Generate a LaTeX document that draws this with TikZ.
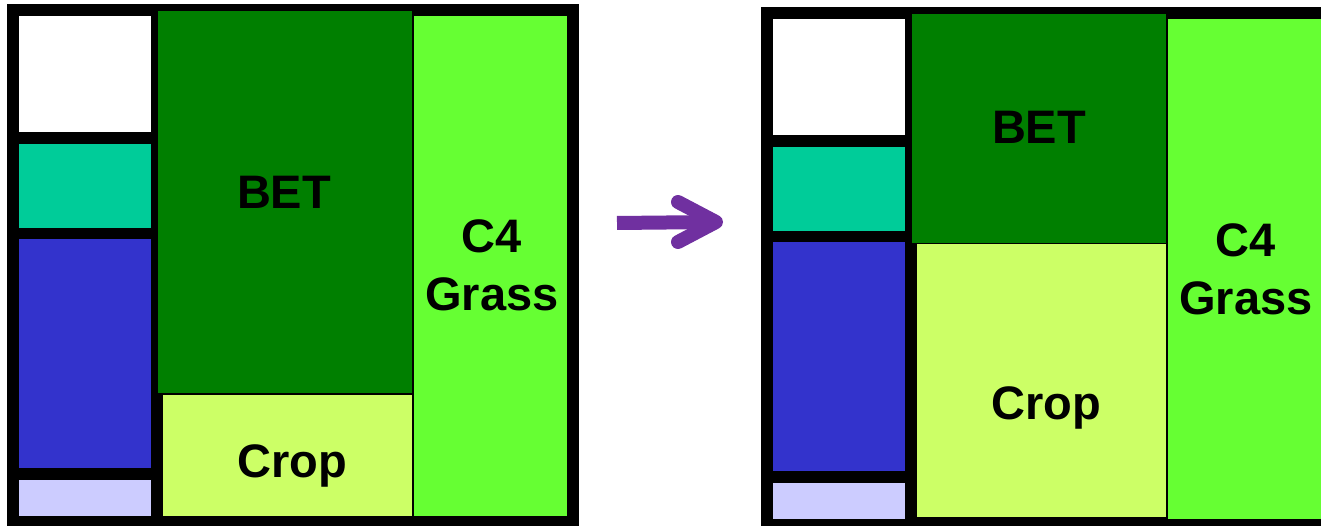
\documentclass[tikz,border=0pt]{standalone}
\usepackage{fontspec}
\setmainfont{Liberation Sans}
\definecolor{cwhite}{HTML}{FFFFFF}
\definecolor{cteal}{HTML}{00CC99}
\definecolor{cblue}{HTML}{3333CC}
\definecolor{clav}{HTML}{CCCCFF}
\definecolor{cbet}{HTML}{007F00}
\definecolor{ccrop}{HTML}{CCFF66}
\definecolor{cgrass}{HTML}{66FF33}
\definecolor{cpurple}{HTML}{7030A0}
\tikzset{
  lbl/.style={font=\fontsize{47}{57}\selectfont\bfseries, anchor=base, inner sep=0pt, text=black},
  arr/.style={draw=cpurple, line width=14pt, line cap=round, line join=round}
}
\begin{document}
\begin{tikzpicture}[x=1pt, y=-1pt]
\useasboundingbox (0,0) rectangle (1321,526);
% ---------- left panel ----------
\fill[black] (7,4) rectangle (579,526);
\fill[cwhite] (19,16) rectangle (151,132);
\fill[cteal] (19,144) rectangle (151,228);
\fill[cblue] (19,239) rectangle (151,468);
\fill[clav] (19,480) rectangle (151,516);
\fill[cbet] (158,11) rectangle (412,393);
\fill[ccrop] (163,395) rectangle (412,516);
\fill[cgrass] (414,16) rectangle (567,516);
\node[lbl] (betL) at (284,209) {BET};
\node[lbl] (cropL) at (292,477) {Crop};
\node[lbl] (c4L) at (492,253) {C4};
\node[lbl] (grassL) at (492,310) {Grass};
% ---------- arrow ----------
\coordinate (as) at (617,223);
\coordinate (ae) at (716,222);
\coordinate (au) at (678,202);
\coordinate (ad) at (678,242);
\draw[draw=cpurple, line width=14pt] (as) -- (ae);
\draw[arr] (au) -- (ae) -- (ad);
% ---------- right panel ----------
\fill[black] (761,7) rectangle (1321,526);
\fill[cwhite] (773,19) rectangle (905,135);
\fill[cteal] (773,147) rectangle (905,231);
\fill[cblue] (773,242) rectangle (905,471);
\fill[clav] (773,483) rectangle (905,519);
\fill[cbet] (912,14) rectangle (1166,243);
\fill[ccrop] (917,244) rectangle (1166,517);
\fill[cgrass] (1168,19) rectangle (1321,519);
\node[lbl] (betR) at (1039,144) {BET};
\node[lbl] (cropR) at (1046,419) {Crop};
\node[lbl] (c4R) at (1246,257) {C4};
\node[lbl] (grassR) at (1246,314) {Grass};
\end{tikzpicture}
\end{document}
